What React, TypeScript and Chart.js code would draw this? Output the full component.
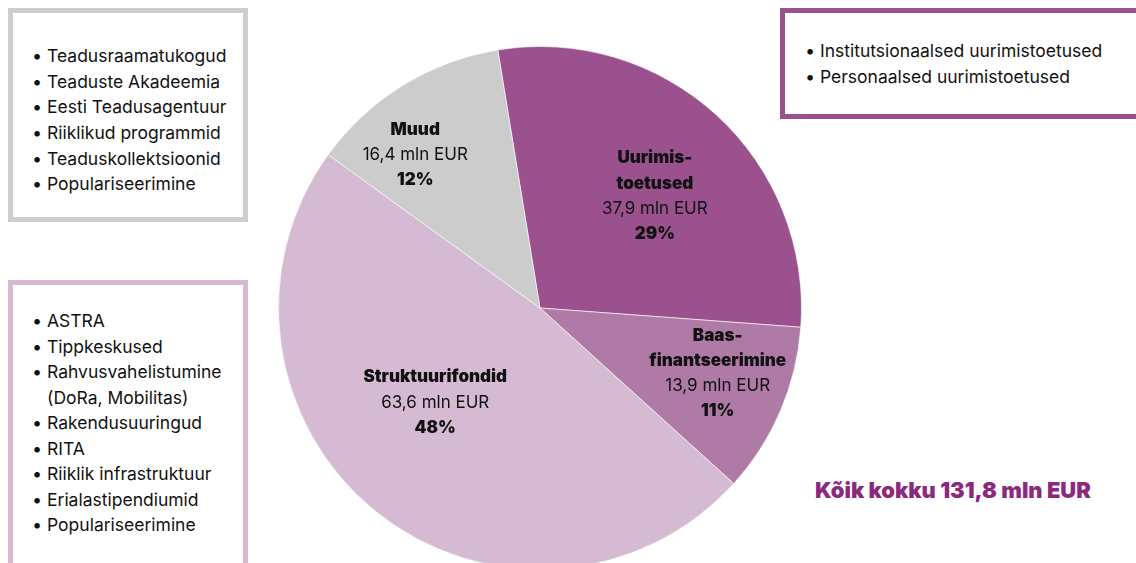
import React, { useEffect, useRef } from "react";
import { Chart, registerables } from "chart.js";

Chart.register(...registerables);

const categories = ["Uurimistoetused", "Baasfinantseerimine", "Struktuurifondid", "Muud"];
const labelLines = [["Uurimis-", "toetused"], ["Baas-", "finantseerimine"], ["Struktuurifondid"], ["Muud"]];
const values = [37.9, 13.9, 63.6, 16.4];
const colors = ["#9c518f", "#b07aa7", "#d5bad3", "#cbcccb"];
const totalLabel = "Kõik kokku 131,8 mln EUR";

const listGray = [
  "Teadusraamatukogud",
  "Teaduste Akadeemia",
  "Eesti Teadusagentuur",
  "Riiklikud programmid",
  "Teaduskollektsioonid",
  "Populariseerimine",
];
const listPink = [
  "ASTRA",
  "Tippkeskused",
  "Rahvusvahelistumine",
  "(DoRa, Mobilitas)",
  "Rakendusuuringud",
  "RITA",
  "Riiklik infrastruktuur",
  "Erialastipendiumid",
  "Populariseerimine",
];
const listPinkBullets = [true, true, true, false, true, true, true, true, true];
const listPurple = ["Institutsionaalsed uurimistoetused", "Personaalsed uurimistoetused"];

// label placement per slice: [radius fraction, angle offset in degrees]
const labelPlacement = [
  [0.613, 3.3],
  [0.724, -3],
  [0.54, 8.85],
  [0.755, -7.5],
];

const FONT = "Inter, 'Noto Sans', sans-serif";

const labelPlugin = {
  id: "sliceLabels",
  afterDatasetsDraw(chart: any) {
    const ctx = chart.ctx;
    const meta = chart.getDatasetMeta(0);
    const data = chart.data.datasets[0].data as number[];
    const total = data.reduce((a, b) => a + b, 0);
    meta.data.forEach((arc: any, i: number) => {
      const { x, y, startAngle, endAngle, outerRadius } = arc.getProps(
        ["x", "y", "startAngle", "endAngle", "outerRadius"],
        true
      );
      const [frac, off] = labelPlacement[i];
      const a = (startAngle + endAngle) / 2 + (off * Math.PI) / 180;
      const cx = x + Math.cos(a) * outerRadius * frac;
      const cy = y + Math.sin(a) * outerRadius * frac;
      const lines: { t: string; bold: boolean }[] = [];
      labelLines[i].forEach((t) => lines.push({ t, bold: true }));
      lines.push({ t: data[i].toFixed(1).replace(".", ",") + " mln EUR", bold: false });
      lines.push({ t: Math.round((data[i] / total) * 100) + "%", bold: true });
      const lh = 25.3;
      const startY = cy - ((lines.length - 1) * lh) / 2;
      ctx.save();
      ctx.textAlign = "center";
      ctx.textBaseline = "middle";
      ctx.fillStyle = "#111111";
      lines.forEach((ln, k) => {
        ctx.font = (ln.bold ? "900 17px " : "400 17px ") + FONT;
        ctx.fillText(ln.t, cx, startY + k * lh);
      });
      ctx.restore();
    });
  },
};

function BulletList({ items, bullets, lineHeight }: { items: string[]; bullets?: boolean[]; lineHeight: number }) {
  return (
    <div>
      {items.map((t, i) => (
        <div key={i} style={{ display: "flex", height: lineHeight, alignItems: "center" }}>
          <span style={{ width: 15, display: "inline-block", fontSize: 18 }}>
            {!bullets || bullets[i] ? "•" : ""}
          </span>
          <span>{t}</span>
        </div>
      ))}
    </div>
  );
}

export default function App() {
  const ref = useRef<HTMLCanvasElement>(null);
  useEffect(() => {
    const chart = new Chart(ref.current!, {
      type: "pie",
      data: {
        labels: categories,
        datasets: [
          {
            data: values,
            backgroundColor: colors,
            borderColor: "rgba(255,255,255,0.6)",
            borderWidth: 1,
          },
        ],
      },
      options: {
        responsive: false,
        animation: false,
        rotation: -9.3,
        layout: { padding: 0 },
        plugins: { legend: { display: false }, tooltip: { enabled: false } },
      },
      plugins: [labelPlugin],
    });
    return () => chart.destroy();
  }, []);

  const boxText: React.CSSProperties = {
    fontFamily: FONT,
    fontSize: 17.5,
    color: "#111111",
    boxSizing: "border-box",
    position: "absolute",
    background: "#fff",
  };

  return (
    <div
      style={{
        position: "absolute",
        left: 0,
        top: 0,
        width: 1136,
        height: 563,
        overflow: "hidden",
        background: "#ffffff",
      }}
    >
      <canvas
        ref={ref}
        width={524}
        height={524}
        style={{ position: "absolute", left: 278, top: 46, width: 524, height: 524 }}
      />
      <div
        style={{
          ...boxText,
          left: 8,
          top: 8,
          width: 240,
          height: 214,
          border: "5px solid #cdcecd",
          paddingTop: 30,
          paddingLeft: 19,
        }}
      >
        <BulletList items={listGray} lineHeight={25.6} />
      </div>
      <div
        style={{
          ...boxText,
          left: 8,
          top: 280,
          width: 240,
          height: 320,
          border: "5px solid #d5bad3",
          paddingTop: 23,
          paddingLeft: 19,
        }}
      >
        <BulletList items={listPink} bullets={listPinkBullets} lineHeight={25.5} />
      </div>
      <div
        style={{
          ...boxText,
          left: 780,
          top: 8,
          width: 400,
          height: 111,
          border: "5px solid #9c518f",
          paddingTop: 24,
          paddingLeft: 20,
        }}
      >
        <BulletList items={listPurple} lineHeight={26} />
      </div>
      <div
        style={{
          position: "absolute",
          left: 815,
          top: 477,
          fontFamily: FONT,
          fontWeight: 900,
          fontSize: 21.9,
          color: "#8b2a7d",
          whiteSpace: "nowrap",
        }}
      >
        {totalLabel}
      </div>
    </div>
  );
}
